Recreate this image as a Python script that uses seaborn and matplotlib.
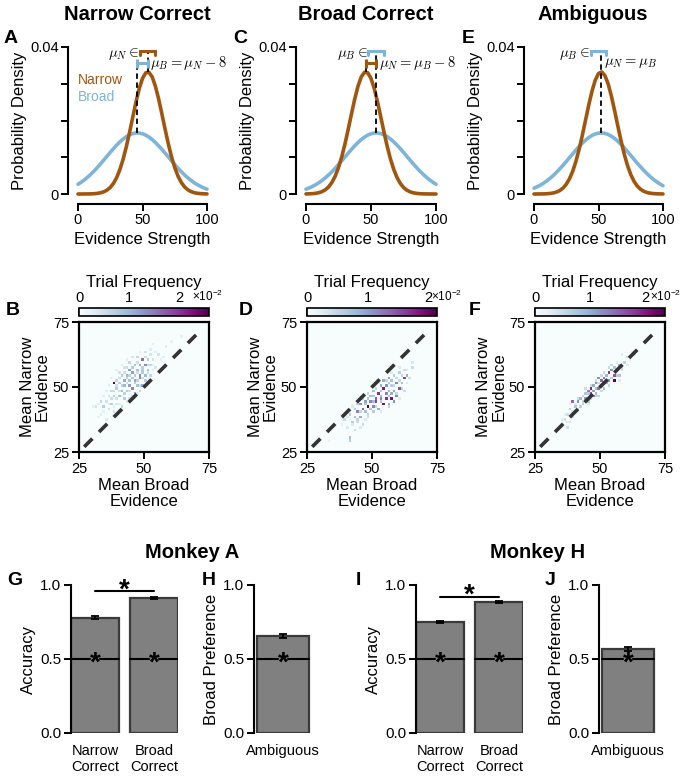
import numpy as np
import pandas as pd
import matplotlib
matplotlib.use("Agg")
import matplotlib.pyplot as plt
import seaborn as sns

# =====================================================
# DATA
# =====================================================
# evidence axis for the stimulus distributions
EVIDENCE = [0, 2.5, 5, 7.5, 10, 12.5, 15, 17.5, 20, 22.5, 25, 27.5, 30, 32.5, 35, 37.5, 40,
            42.5, 45, 47.5, 50, 52.5, 55, 57.5, 60, 62.5, 65, 67.5, 70, 72.5, 75, 77.5, 80,
            82.5, 85, 87.5, 90, 92.5, 95, 97.5, 100]

# probability density (A / C / E)
A_NARROW = [0.00000, 0.00000, 0.00001, 0.00002, 0.00004, 0.00008, 0.00017, 0.00033, 0.00060, 0.00106,
            0.00179, 0.00290, 0.00450, 0.00668, 0.00949, 0.01292, 0.01683, 0.02100, 0.02509, 0.02871,
            0.03145, 0.03298, 0.03312, 0.03186, 0.02933, 0.02587, 0.02184, 0.01765, 0.01367, 0.01013,
            0.00719, 0.00489, 0.00318, 0.00198, 0.00118, 0.00068, 0.00037, 0.00019, 0.00010, 0.00005, 0.00002]
A_BROAD = [0.00265, 0.00322, 0.00386, 0.00459, 0.00540, 0.00627, 0.00722, 0.00821, 0.00924, 0.01029,
           0.01133, 0.01235, 0.01331, 0.01419, 0.01496, 0.01561, 0.01611, 0.01644, 0.01661, 0.01659,
           0.01639, 0.01602, 0.01549, 0.01482, 0.01402, 0.01312, 0.01215, 0.01113, 0.01008, 0.00903,
           0.00801, 0.00702, 0.00609, 0.00523, 0.00444, 0.00373, 0.00309, 0.00254, 0.00207, 0.00166, 0.00132]
C_NARROW = [0.00002, 0.00005, 0.00010, 0.00019, 0.00037, 0.00068, 0.00118, 0.00198, 0.00318, 0.00489,
            0.00719, 0.01013, 0.01367, 0.01765, 0.02184, 0.02587, 0.02933, 0.03186, 0.03312, 0.03298,
            0.03145, 0.02871, 0.02509, 0.02100, 0.01683, 0.01292, 0.00949, 0.00668, 0.00450, 0.00290,
            0.00179, 0.00106, 0.00060, 0.00033, 0.00017, 0.00008, 0.00004, 0.00002, 0.00001, 0.00000, 0.00000]
C_BROAD = [0.00132, 0.00166, 0.00207, 0.00254, 0.00309, 0.00373, 0.00444, 0.00523, 0.00609, 0.00702,
           0.00801, 0.00903, 0.01008, 0.01113, 0.01215, 0.01312, 0.01402, 0.01482, 0.01549, 0.01602,
           0.01639, 0.01659, 0.01661, 0.01644, 0.01611, 0.01561, 0.01496, 0.01419, 0.01331, 0.01235,
           0.01133, 0.01029, 0.00924, 0.00821, 0.00722, 0.00627, 0.00540, 0.00459, 0.00386, 0.00322, 0.00265]
E_NARROW = [0.00000, 0.00001, 0.00002, 0.00003, 0.00007, 0.00015, 0.00029, 0.00053, 0.00095, 0.00162,
            0.00265, 0.00414, 0.00619, 0.00888, 0.01219, 0.01602, 0.02016, 0.02430, 0.02804, 0.03098,
            0.03278, 0.03321, 0.03222, 0.02993, 0.02662, 0.02267, 0.01848, 0.01443, 0.01079, 0.00773,
            0.00530, 0.00348, 0.00218, 0.00132, 0.00076, 0.00042, 0.00022, 0.00011, 0.00005, 0.00003, 0.00001]
E_BROAD = [0.00159, 0.00198, 0.00244, 0.00298, 0.00359, 0.00429, 0.00506, 0.00592, 0.00683, 0.00781,
           0.00883, 0.00987, 0.01092, 0.01195, 0.01293, 0.01385, 0.01467, 0.01537, 0.01593, 0.01633,
           0.01656, 0.01662, 0.01649, 0.01619, 0.01572, 0.01510, 0.01435, 0.01349, 0.01254, 0.01154,
           0.01050, 0.00945, 0.00841, 0.00741, 0.00646, 0.00557, 0.00475, 0.00400, 0.00334, 0.00276, 0.00225]

# means (dashed lines), range of the varied mean, and the 8-unit shift
A_MEAN_X, A_MEAN_Y, A_MEAN_TOP = [46, 54], [0.0166, 0.0332], [0.0356, 0.0390]
A_RANGE, A_SHIFT = [48, 60], [46, 54]
C_MEAN_X, C_MEAN_Y, C_MEAN_TOP = [46, 54], [0.0332, 0.0166], [0.0356, 0.0390]
C_RANGE, C_SHIFT = [48, 60], [46, 54]
E_MEAN_X, E_MEAN_Y, E_MEAN_TOP = [52], [0.0166], [0.0390]
E_RANGE = [44, 56]

# trial frequency heatmaps (x10^-2), 1-unit bins: (mean broad, mean narrow, frequency)
B_BROAD = [53, 58, 60, 64, 50, 52, 55, 57, 47, 49, 51, 53, 44, 46, 48, 50, 52, 54,
           42, 44, 45, 47, 49, 51, 40, 41, 43, 45, 46, 48, 50, 52, 39, 42, 44, 46, 48, 50,
           38, 40, 42, 44, 45, 47, 49, 37, 39, 41, 43, 46, 48, 36, 38, 40, 42, 44,
           33, 35, 37, 39, 41, 31, 34, 36, 38, 33, 35,
           43, 45, 48, 50, 52, 54, 56, 41, 43, 47, 49, 51, 53, 39, 42, 44, 47, 49, 51, 53,
           37, 40, 43, 45, 47, 49, 51, 36, 39, 41, 43, 46, 48, 50, 35, 38, 40, 42, 44, 45, 47,
           34, 37, 39, 41, 43, 32, 36, 38, 40, 30, 34, 32]
B_NARROW = [66, 65, 67, 69, 63, 62, 62, 61, 61, 60, 60, 60, 59, 58, 58, 58, 58, 57,
            57, 56, 57, 56, 56, 56, 55, 54, 54, 55, 54, 54, 54, 54, 52, 52, 52, 52, 53, 52,
            51, 51, 50, 50, 49, 50, 50, 48, 49, 48, 48, 47, 48, 46, 46, 46, 45, 45,
            44, 44, 43, 43, 42, 42, 42, 41, 40, 39, 37,
            60, 61, 63, 61, 64, 63, 60, 58, 57, 59, 57, 58, 58, 56, 55, 54, 55, 55, 55, 56,
            53, 53, 53, 53, 52, 53, 53, 50, 50, 50, 51, 51, 50, 50, 48, 48, 48, 47, 48, 46, 47,
            46, 45, 45, 46, 44, 43, 43, 42, 43, 42, 40, 38]
B_FREQ = [0.3, 0.3, 0.25, 0.25, 0.45, 0.4, 0.45, 0.3, 0.6, 1.6, 0.75, 0.45, 0.6, 0.9, 1.1, 1.4, 0.6, 0.45,
          0.45, 1.2, 0.75, 0.9, 0.75, 0.9, 0.45, 0.75, 1.0, 1.2, 0.75, 1.4, 1.0, 0.6, 0.6, 1.1, 0.9, 1.2, 1.4, 0.75,
          2.6, 0.75, 1.0, 1.2, 1.4, 0.9, 1.1, 0.6, 0.75, 0.9, 0.75, 1.2, 0.6, 0.45, 0.75, 0.9, 0.75, 0.45,
          0.6, 0.45, 0.75, 0.45, 0.6, 0.45, 0.75, 0.45, 0.45, 0.3, 0.3,
          0.3, 0.4, 0.3, 0.5, 0.3, 0.3, 0.3, 0.3, 0.5, 0.5, 0.65, 0.5, 0.3, 0.3, 0.5, 0.65, 0.5, 0.8, 0.5, 0.3,
          0.3, 0.5, 0.65, 0.8, 0.65, 0.5, 0.3, 0.3, 0.5, 0.65, 0.5, 0.65, 0.5, 0.3, 0.3, 0.5, 0.5, 0.65, 0.5, 0.5, 0.3,
          0.3, 0.5, 0.5, 0.3, 0.3, 0.3, 0.3, 0.3, 0.3, 0.25, 0.25, 0.25]

D_BROAD = [65, 65, 62, 60, 63, 62, 64, 58, 56, 54, 57, 59, 61, 53, 55, 57, 54, 60, 58, 62,
           50, 52, 55, 57, 59, 49, 51, 53, 55, 57, 58, 47, 49, 51, 54, 56, 45, 48, 50, 52, 46,
           43, 44, 47, 50, 41, 43, 45, 48, 39, 42, 44, 46, 40, 43, 41, 41, 33,
           60, 63, 61, 59, 57, 55, 60, 63, 52, 56, 58, 61, 51, 53, 56, 59, 48, 50, 53, 56, 60,
           46, 48, 50, 53, 56, 44, 47, 49, 51, 53, 42, 45, 48, 40, 44, 47, 42, 45, 38]
D_NARROW = [59, 57, 56, 55, 54, 53, 53, 54, 53, 52, 52, 51, 51, 50, 50, 50, 49, 49, 48, 48,
            48, 47, 47, 47, 46, 46, 45, 45, 45, 45, 44, 44, 44, 44, 43, 43, 43, 42, 42, 41, 41,
            41, 40, 40, 40, 39, 38, 38, 38, 37, 36, 36, 35, 34, 33, 30, 29, 29,
            57, 56, 54, 53, 55, 52, 52, 51, 51, 51, 50, 49, 49, 48, 48, 47, 47, 46, 46, 46, 45,
            45, 45, 44, 44, 42, 43, 43, 41, 42, 40, 42, 40, 39, 38, 37, 37, 35, 34, 35]
D_FREQ = [0.3, 0.45, 0.45, 0.6, 0.9, 1.6, 0.45, 0.6, 1.0, 0.9, 0.75, 1.2, 0.75, 0.9, 1.1, 0.6, 1.8, 1.5, 1.0, 0.45,
          0.75, 1.7, 1.2, 0.9, 1.2, 0.75, 1.4, 1.2, 1.7, 1.9, 1.1, 1.0, 1.2, 1.6, 1.9, 0.9, 1.1, 2.15, 1.2, 0.9, 1.4,
          0.6, 1.2, 0.75, 0.6, 0.6, 0.75, 0.9, 0.45, 0.45, 0.6, 0.45, 0.45, 0.3, 0.45, 0.75, 0.6, 0.15,
          0.3, 0.3, 0.5, 0.5, 0.3, 0.5, 0.5, 0.3, 0.3, 0.65, 0.5, 0.5, 0.5, 0.65, 0.8, 0.5, 0.5, 0.65, 0.8, 0.65, 0.3,
          0.5, 0.65, 0.8, 0.65, 0.5, 0.5, 0.65, 0.65, 0.5, 0.3, 0.3, 0.5, 0.5, 0.3, 0.5, 0.3, 0.3, 0.3, 0.25]

F_BROAD = [62, 60, 58, 59, 57, 55, 58, 56, 54, 53, 55, 57, 52, 51, 49, 55, 53, 50, 52,
           48, 50, 47, 49, 46, 51, 45, 47, 48, 46, 44, 47, 49, 42, 44, 45, 39, 41, 43,
           40, 42, 38, 40, 37, 39, 36, 38, 35, 37,
           61, 63, 56, 60, 54, 58, 56, 53, 51, 54, 57, 50, 52, 48, 51, 53, 49, 46, 48, 50,
           44, 45, 48, 43, 46, 41, 43, 45, 40, 41, 38, 39, 38, 36, 37, 35]
F_NARROW = [63, 61, 62, 59, 58, 57, 56, 56, 56, 55, 54, 54, 54, 53, 53, 52, 52, 52, 51,
            51, 50, 50, 49, 49, 49, 48, 48, 47, 47, 47, 46, 46, 45, 45, 44, 44, 44, 43,
            42, 42, 41, 40, 39, 38, 37, 36, 35, 34,
            60, 62, 59, 58, 58, 57, 54, 57, 55, 53, 52, 54, 52, 52, 51, 50, 51, 50, 49, 48,
            49, 47, 46, 46, 45, 45, 44, 43, 43, 41, 43, 40, 38, 39, 36, 37]
F_FREQ = [0.3, 0.45, 0.3, 0.6, 0.9, 0.75, 0.45, 1.0, 1.2, 1.8, 1.6, 0.75, 0.9, 1.4, 1.2, 2.3, 1.1, 1.5, 0.9,
          1.2, 1.2, 1.0, 1.5, 1.9, 0.75, 1.3, 1.1, 0.9, 1.6, 0.75, 1.4, 0.6, 0.9, 1.2, 0.75, 1.5, 1.2, 0.6,
          0.75, 0.6, 0.6, 0.45, 0.45, 0.45, 0.45, 0.3, 0.3, 0.45,
          0.3, 0.25, 0.3, 0.3, 0.5, 0.5, 0.65, 0.5, 0.5, 0.65, 0.3, 0.5, 0.65, 0.5, 0.65, 0.5, 0.5, 0.5, 0.8, 0.5,
          0.5, 0.65, 0.5, 0.5, 0.5, 0.5, 0.5, 0.3, 0.3, 0.5, 0.3, 0.3, 0.3, 0.25, 0.3, 0.25]

HEAT_VMAX = [2.6, 2.15, 2.35]
BINS = list(range(25, 75))
DIAG = [27, 72]

# behaviour
ACC_CATS = ["Narrow\nCorrect", "Broad\nCorrect"]
AMB_CATS = ["Ambiguous"]
G_ACC, G_ERR = [0.780, 0.915], [0.013, 0.007]
H_PREF, H_ERR = [0.655], [0.012]
I_ACC, I_ERR = [0.750, 0.885], [0.009, 0.007]
J_PREF, J_ERR = [0.567], [0.011]
G_SIG_Y, I_SIG_Y = 0.96, 0.92
CHANCE = 0.5

# =====================================================
# STYLE
# =====================================================
NARROW_COL = "#a0560f"
BROAD_COL = "#7db4d8"
BAR_COL = "#808080"
EDGE_COL = "#3a3a3a"

sns.set_theme(style="ticks")
plt.rcParams['font.family'] = ['Liberation Sans', 'DejaVu Sans']
plt.rcParams['mathtext.fontset'] = 'cm'
plt.rcParams['axes.linewidth'] = 1.5
plt.rcParams['xtick.major.width'] = 1.4
plt.rcParams['ytick.major.width'] = 1.4
plt.rcParams['xtick.major.size'] = 5
plt.rcParams['ytick.major.size'] = 5
plt.rcParams['axes.edgecolor'] = 'black'
plt.rcParams['xtick.color'] = 'black'
plt.rcParams['ytick.color'] = 'black'
plt.rcParams['text.color'] = 'black'
plt.rcParams['axes.labelcolor'] = 'black'

W, H = 685, 778
fig = plt.figure(figsize=(W / 100, H / 100), dpi=100)


def add_ax(x0, y0, x1, y1):
    return fig.add_axes([x0 / W, 1 - y1 / H, (x1 - x0) / W, (y1 - y0) / H])


def ftext(x, y, s, **kw):
    fig.text(x / W, 1 - y / H, s, **kw)


# =====================================================
# TOP ROW: distributions
# =====================================================
def density_panel(ax, narrow, broad, mean_x, mean_y, mean_top):
    sns.lineplot(x=EVIDENCE, y=broad, ax=ax, color=BROAD_COL, lw=2.6, clip_on=False)
    sns.lineplot(x=EVIDENCE, y=narrow, ax=ax, color=NARROW_COL, lw=2.6, clip_on=False)
    for x, y0, y1 in zip(mean_x, mean_y, mean_top):
        ax.plot([x, x], [y0, y1], color='black', lw=1.3, ls=(0, (3, 2)))
    ax.set_xlim(0, 100)
    ax.set_ylim(0, 0.04)
    ax.set_xticks([0, 50, 100])
    ax.set_yticks([0, 0.01, 0.02, 0.03, 0.04])
    ax.set_yticklabels(['0', '', '', '', '0.04'])
    ax.tick_params(labelsize=10.5, pad=2)
    ax.set_xlabel('Evidence Strength', fontsize=12, labelpad=3)
    ax.set_ylabel('Probability Density', fontsize=12, labelpad=2)
    sns.despine(ax=ax, offset=7, trim=True)


def cap_bracket(ax, span, y, color):
    ax.plot([span[0], span[0], span[1], span[1]], [y - 0.0013, y, y, y - 0.0013],
            color=color, lw=2.2, solid_joinstyle='miter', clip_on=False)


def h_bracket(ax, span, y, color):
    ax.plot(span, [y, y], color=color, lw=2.2, clip_on=False)
    ax.vlines(span, y - 0.0012, y + 0.0012, color=color, lw=2.2, clip_on=False)


axA = add_ax(78, 47, 207, 194)
density_panel(axA, A_NARROW, A_BROAD, A_MEAN_X, A_MEAN_Y, A_MEAN_TOP)
cap_bracket(axA, A_RANGE, A_MEAN_TOP[1], NARROW_COL)
h_bracket(axA, A_SHIFT, A_MEAN_TOP[0], BROAD_COL)
axA.text(A_RANGE[0] - 1, 0.0382, r'$\mu_N\in$', ha='right', va='center', fontsize=10.5)
axA.text(A_SHIFT[1] + 2, 0.0356, r'$\mu_B=\mu_N-8$', ha='left', va='center', fontsize=10.5)
axA.text(0, 0.0310, 'Narrow', color=NARROW_COL, fontsize=10, va='center')
axA.text(0, 0.0264, 'Broad', color=BROAD_COL, fontsize=10, va='center')

axC = add_ax(306, 47, 436, 194)
density_panel(axC, C_NARROW, C_BROAD, C_MEAN_X, C_MEAN_Y, C_MEAN_TOP)
cap_bracket(axC, C_RANGE, C_MEAN_TOP[1], BROAD_COL)
h_bracket(axC, C_SHIFT, C_MEAN_TOP[0], NARROW_COL)
axC.text(C_RANGE[0] - 1, 0.0382, r'$\mu_B\in$', ha='right', va='center', fontsize=10.5)
axC.text(C_SHIFT[1] + 2, 0.0356, r'$\mu_N=\mu_B-8$', ha='left', va='center', fontsize=10.5)

axE = add_ax(534, 47, 663, 194)
density_panel(axE, E_NARROW, E_BROAD, E_MEAN_X, E_MEAN_Y, E_MEAN_TOP)
cap_bracket(axE, E_RANGE, E_MEAN_TOP[0], BROAD_COL)
axE.text(E_RANGE[0] - 1, 0.0382, r'$\mu_B\in$', ha='right', va='center', fontsize=10.5)
axE.text(E_MEAN_X[0] + 2, 0.0356, r'$\mu_N=\mu_B$', ha='left', va='center', fontsize=10.5)

for cx, title in [(137.5, 'Narrow Correct'), (366, 'Broad Correct'), (593, 'Ambiguous')]:
    ftext(cx, 15, title, ha='center', va='center', fontsize=14.5, fontweight='bold')

# =====================================================
# MIDDLE ROW: heatmaps
# =====================================================
def heat_panel(ax, cax, broad, narrow, freq, vmax):
    cells = pd.DataFrame({'broad': broad, 'narrow': narrow, 'freq': freq})
    grid = cells.pivot_table(index='narrow', columns='broad', values='freq', aggfunc='max')
    grid = grid.reindex(index=BINS[::-1], columns=BINS).fillna(0)
    sns.heatmap(grid, ax=ax, cmap='BuPu', vmin=0, vmax=vmax, cbar_ax=cax,
                cbar_kws={'orientation': 'horizontal', 'ticks': [0, 1, 2]},
                xticklabels=False, yticklabels=False)
    # y = x reference line, converted to heatmap cell positions
    ax.plot([d - BINS[0] for d in DIAG], [BINS[-1] + 1 - d for d in DIAG],
            color='#333333', lw=2.6, ls=(0, (3.2, 2.6)))
    for s in ax.spines.values():
        s.set_visible(True)
        s.set_linewidth(1.6)
    ax.set_xticks([0, 25, 50])
    ax.set_xticklabels(['25', '50', '75'], rotation=0)
    ax.set_yticks([0, 25, 50])
    ax.set_yticklabels(['75', '50', '25'], rotation=0)
    ax.tick_params(left=True, bottom=True, length=5, width=1.4, labelsize=10.5, pad=2)
    ax.set_xlabel('Mean Broad\nEvidence', fontsize=12, labelpad=2, linespacing=1.0)
    ax.set_ylabel('Mean Narrow\nEvidence', fontsize=12, labelpad=2, linespacing=1.0)
    cbar = ax.collections[0].colorbar
    cbar.outline.set_linewidth(1.2)
    cbar.outline.set_edgecolor('black')
    cax.xaxis.set_ticks_position('top')
    cax.xaxis.set_label_position('top')
    cax.tick_params(direction='in', length=6, width=1.1, labelsize=10.5, pad=2, color='black')
    cax.set_xlabel('Trial Frequency', fontsize=12, labelpad=3)


for x0, cxt, (br, na, fr), vmax in zip(
        [79, 307, 535], [192, 431, 650],
        [(B_BROAD, B_NARROW, B_FREQ), (D_BROAD, D_NARROW, D_FREQ), (F_BROAD, F_NARROW, F_FREQ)],
        HEAT_VMAX):
    ax = add_ax(x0, 322, x0 + 130, 452)
    cax = add_ax(x0, 308, x0 + 130, 316)
    heat_panel(ax, cax, br, na, fr, vmax)
    ftext(cxt, 296, r'$\mathregular{\times10^{-2}}$', ha='left', va='center', fontsize=8.5)

# =====================================================
# BOTTOM ROW: behaviour
# =====================================================
def bar_panel(ax, cats, vals, errs, ylabel, width, sig_y=None):
    sns.barplot(x=cats, y=vals, ax=ax, color=BAR_COL, edgecolor=EDGE_COL,
                linewidth=1.6, width=width, errorbar=None, saturation=1)
    pos = list(range(len(vals)))
    ax.errorbar(pos, vals, yerr=errs, fmt='none', ecolor='black',
                elinewidth=1.3, capsize=3, capthick=1.3)
    gap = 0.09
    for i in pos:
        ax.plot([i - width / 2, i - gap], [CHANCE, CHANCE], color='black', lw=1.5)
        ax.plot([i + gap, i + width / 2], [CHANCE, CHANCE], color='black', lw=1.5)
        ax.annotate('*', (i, CHANCE), xytext=(0, -8.5), textcoords='offset points',
                    ha='center', va='baseline', fontsize=20, fontweight='bold')
    if sig_y is not None:
        ax.plot([pos[0], pos[-1]], [sig_y, sig_y], color='black', lw=1.5)
        ax.annotate('*', ((pos[0] + pos[-1]) / 2, sig_y), xytext=(0, -4.5),
                    textcoords='offset points', ha='center', va='baseline',
                    fontsize=20, fontweight='bold')
    ax.set_ylim(0, 1.0)
    ax.set_yticks([0, 0.5, 1.0])
    ax.set_yticklabels(['0.0', '0.5', '1.0'])
    ax.set_ylabel(ylabel, fontsize=12, labelpad=3)
    ax.set_xlabel('')
    ax.tick_params(axis='y', labelsize=11, pad=2)
    ax.tick_params(axis='x', length=0, labelsize=10.5, pad=8)
    sns.despine(ax=ax, bottom=True)


axG = add_ax(71, 585, 178, 733)
bar_panel(axG, ACC_CATS, G_ACC, G_ERR, 'Accuracy', 0.81, G_SIG_Y)
axG.set_xlim(-0.41, 1.41)
axH = add_ax(254, 585, 312, 733)
bar_panel(axH, AMB_CATS, H_PREF, H_ERR, 'Broad Preference', 0.9)
axH.set_xlim(-0.5, 0.5)
axI = add_ax(416, 585, 523, 733)
bar_panel(axI, ACC_CATS, I_ACC, I_ERR, 'Accuracy', 0.81, I_SIG_Y)
axI.set_xlim(-0.41, 1.41)
axJ = add_ax(599, 585, 657, 733)
bar_panel(axJ, AMB_CATS, J_PREF, J_ERR, 'Broad Preference', 0.9)
axJ.set_xlim(-0.5, 0.5)

ftext(192, 552, 'Monkey A', ha='center', va='center', fontsize=14.5, fontweight='bold')
ftext(538, 552, 'Monkey H', ha='center', va='center', fontsize=14.5, fontweight='bold')

# panel letters
for x, y, letter in [(4, 43, 'A'), (233, 43, 'C'), (462, 43, 'E'),
                     (6, 315, 'B'), (239, 315, 'D'), (469, 315, 'F'),
                     (7, 585, 'G'), (202, 585, 'H'), (356, 585, 'I'), (545, 585, 'J')]:
    ftext(x, y, letter, ha='left', va='baseline', fontsize=14, fontweight='bold')

fig.savefig('out.png', dpi=100)
